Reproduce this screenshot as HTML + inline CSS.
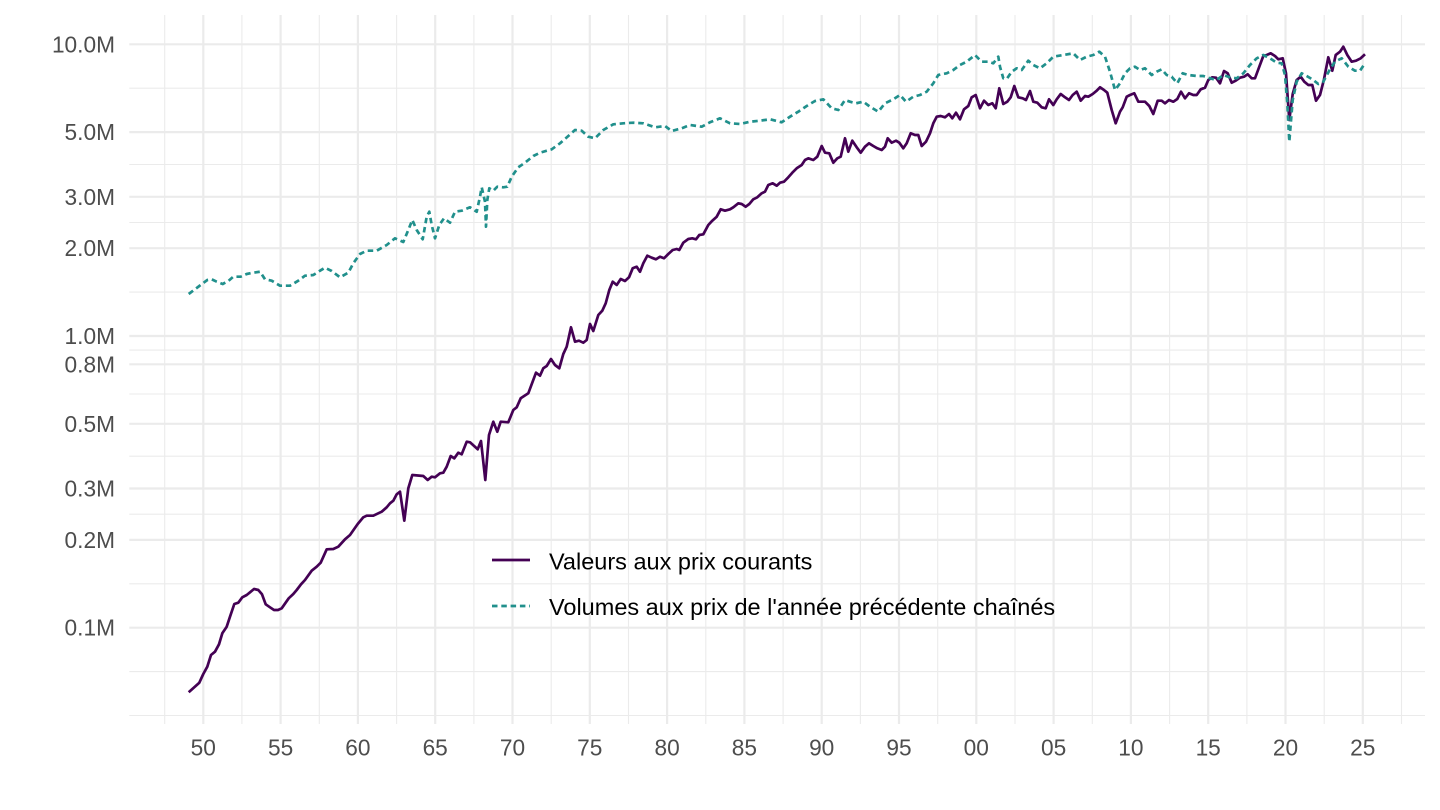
<!DOCTYPE html>
<html><head><meta charset="utf-8"><style>
html,body{margin:0;padding:0;background:#fff;}
svg{display:block;}
text{font-family:"Liberation Sans",Arial,Helvetica,sans-serif;}
</style></head><body>
<svg width="1440" height="810" viewBox="0 0 1440 810" xmlns="http://www.w3.org/2000/svg">
<rect width="1440" height="810" fill="#fff"/>
<g stroke="#EBEBEB" stroke-width="1.1" fill="none">
<line x1="129.3" x2="1425" y1="88.2" y2="88.2"/><line x1="129.3" x2="1425" y1="164.5" y2="164.5"/><line x1="129.3" x2="1425" y1="222.5" y2="222.5"/><line x1="129.3" x2="1425" y1="292.1" y2="292.1"/><line x1="129.3" x2="1425" y1="350.1" y2="350.1"/><line x1="129.3" x2="1425" y1="394" y2="394"/><line x1="129.3" x2="1425" y1="456.2" y2="456.2"/><line x1="129.3" x2="1425" y1="514.2" y2="514.2"/><line x1="129.3" x2="1425" y1="583.8" y2="583.8"/><line x1="129.3" x2="1425" y1="671.6" y2="671.6"/><line x1="129.3" x2="1425" y1="715.5" y2="715.5"/>
<line y1="15" y2="724" x1="164.7" x2="164.7"/><line y1="15" y2="724" x1="241.9" x2="241.9"/><line y1="15" y2="724" x1="319.3" x2="319.3"/><line y1="15" y2="724" x1="396.6" x2="396.6"/><line y1="15" y2="724" x1="473.9" x2="473.9"/><line y1="15" y2="724" x1="551.2" x2="551.2"/><line y1="15" y2="724" x1="628.5" x2="628.5"/><line y1="15" y2="724" x1="705.8" x2="705.8"/><line y1="15" y2="724" x1="783.1" x2="783.1"/><line y1="15" y2="724" x1="860.4" x2="860.4"/><line y1="15" y2="724" x1="937.7" x2="937.7"/><line y1="15" y2="724" x1="1015" x2="1015"/><line y1="15" y2="724" x1="1092.3" x2="1092.3"/><line y1="15" y2="724" x1="1169.6" x2="1169.6"/><line y1="15" y2="724" x1="1246.9" x2="1246.9"/><line y1="15" y2="724" x1="1324.2" x2="1324.2"/><line y1="15" y2="724" x1="1401.5" x2="1401.5"/>
</g>
<g stroke="#EBEBEB" stroke-width="2.2" fill="none">
<line x1="129.3" x2="1425" y1="44.3" y2="44.3"/><line x1="129.3" x2="1425" y1="132.1" y2="132.1"/><line x1="129.3" x2="1425" y1="196.8" y2="196.8"/><line x1="129.3" x2="1425" y1="248.2" y2="248.2"/><line x1="129.3" x2="1425" y1="336" y2="336"/><line x1="129.3" x2="1425" y1="364.3" y2="364.3"/><line x1="129.3" x2="1425" y1="423.8" y2="423.8"/><line x1="129.3" x2="1425" y1="488.5" y2="488.5"/><line x1="129.3" x2="1425" y1="539.9" y2="539.9"/><line x1="129.3" x2="1425" y1="627.7" y2="627.7"/>
<line y1="15" y2="724" x1="203.3" x2="203.3"/><line y1="15" y2="724" x1="280.6" x2="280.6"/><line y1="15" y2="724" x1="357.9" x2="357.9"/><line y1="15" y2="724" x1="435.2" x2="435.2"/><line y1="15" y2="724" x1="512.5" x2="512.5"/><line y1="15" y2="724" x1="589.8" x2="589.8"/><line y1="15" y2="724" x1="667.1" x2="667.1"/><line y1="15" y2="724" x1="744.4" x2="744.4"/><line y1="15" y2="724" x1="821.7" x2="821.7"/><line y1="15" y2="724" x1="899" x2="899"/><line y1="15" y2="724" x1="976.3" x2="976.3"/><line y1="15" y2="724" x1="1053.6" x2="1053.6"/><line y1="15" y2="724" x1="1130.9" x2="1130.9"/><line y1="15" y2="724" x1="1208.2" x2="1208.2"/><line y1="15" y2="724" x1="1285.5" x2="1285.5"/><line y1="15" y2="724" x1="1362.8" x2="1362.8"/>
</g>
<g font-size="22.7" fill="#4D4D4D" text-anchor="end">
<text x="115" y="52.3">10.0M</text><text x="115" y="140.1">5.0M</text><text x="115" y="204.8">3.0M</text><text x="115" y="256.2">2.0M</text><text x="115" y="344">1.0M</text><text x="115" y="372.3">0.8M</text><text x="115" y="431.8">0.5M</text><text x="115" y="496.5">0.3M</text><text x="115" y="547.9">0.2M</text><text x="115" y="635.7">0.1M</text>
</g>
<g font-size="22.7" fill="#4D4D4D" text-anchor="middle">
<text x="203.3" y="755.5">50</text><text x="280.6" y="755.5">55</text><text x="357.9" y="755.5">60</text><text x="435.2" y="755.5">65</text><text x="512.5" y="755.5">70</text><text x="589.8" y="755.5">75</text><text x="667.1" y="755.5">80</text><text x="744.4" y="755.5">85</text><text x="821.7" y="755.5">90</text><text x="899" y="755.5">95</text><text x="976.3" y="755.5">00</text><text x="1053.6" y="755.5">05</text><text x="1130.9" y="755.5">10</text><text x="1208.2" y="755.5">15</text><text x="1285.5" y="755.5">20</text><text x="1362.8" y="755.5">25</text>
</g>
<polyline fill="none" stroke="#440154" stroke-width="2.7" stroke-linejoin="round" points="188.7,692.3 199.3,682.7 203.3,674 207.3,666.7 211,655 215,651.7 219,644.3 222.3,633.3 226.7,626.7 230,616.7 234.3,604 238.3,602.7 242.3,597.3 246.7,595 250,592.3 254,589 258.3,590 262,594.3 265.7,604.3 270,607.3 274,610 278,610 281.7,608.3 288.7,598.3 293.3,594 296.7,590 301,584.3 305,580 311.7,570.7 316.7,566.7 320.7,562.7 326.7,549.3 333.3,549 338.3,546.7 345,539.3 350,535 357.7,524 363.3,517.3 366.7,515.7 373.3,515.7 381.7,511.7 386.7,507.3 390,503.3 393.3,500.7 396.7,494.3 400,491.7 404.3,520.7 408.3,488.3 412.3,475 423.3,476 427.7,480 431.7,476.7 435,477.3 440,473.3 443.3,472.7 446.7,466.7 450.7,456 454.3,458.3 458.3,452.7 461.7,454.3 466.7,441.7 470,442.3 477.7,449.3 481,441 485.3,480 489,435 493.3,421.7 497.3,431.7 500.7,421.7 508.3,422.3 513.3,410 516.7,407.3 520.7,398.3 528.3,393.3 536,372.7 540,375.7 543.3,368.3 546.7,366 551,359 555,365 559.3,368.3 563.3,354 566.7,346.7 571,327.3 575,341.7 579,340.7 583.3,342.7 586.7,340 590,324 593.3,331 598.3,315 602.3,310.7 605.7,303.3 609.3,290 612.7,281.7 616.7,285 620.7,279 625,281 629,277.3 632.7,268.3 636.7,266.7 640,271.7 643.3,263.3 647.3,255.7 651.7,257.7 656,259.3 660,256.7 664,258.3 668.3,254 672.7,250 676.7,249 679.3,250 683.3,242.7 688.3,239 692.3,238.3 696,239.3 699.3,235 703.3,234.3 708.3,225 712.3,220.7 716.7,216.7 720.7,209.3 725,210.7 730,209.3 733.3,207.3 738.3,203.3 741.7,204 745.7,206.7 749.3,204 753.3,199.3 757.3,197.3 761.7,193.3 765,191.7 768.3,185 772.7,183.3 776.7,185.7 780,182.7 784,181.7 788.3,177.3 792.3,172.7 796.7,168.3 801.7,165 805,160 808.3,158.3 813.3,160 817.3,156.7 821.7,146 825,152.7 829.3,153.3 833.3,162.7 837.3,158.3 840.7,156.7 845,138.3 848.3,151.7 852.3,140.7 856.7,147.3 860.7,152.7 865,146.7 869,143.3 873.3,146 877.3,148.3 881.7,150 885,146.7 887.7,138.3 891.7,142.7 896,140.7 899.3,142.7 903.3,148.3 906.7,143.3 910.7,133.3 915,135 918.3,135 921.7,146 926,141.7 930,133.3 933.3,123.3 936.7,116.7 940.7,116 945,117.3 949,114 952.3,118.3 956,112.7 960,119.3 964,109.3 968.3,106 971.7,97.3 975.7,95 980,108.3 984,100.7 988.3,105 992.3,103.3 995.7,108.3 999.3,88.3 1003.3,104 1007.3,101.7 1010.7,97.3 1014.3,86 1018.3,97.3 1022.7,98.3 1026,100 1030,91 1033.3,101.7 1037.3,102.7 1041.7,107.3 1045.7,108.3 1049,99.3 1053.3,105 1056.7,99.3 1060.7,94 1065,97.3 1069,100 1072.7,95 1076.7,91.7 1080.7,100.7 1085,96 1088.3,96.7 1092.7,94 1096.7,90.7 1100,87.3 1104,90 1107.3,92.7 1111.7,110 1115.7,123.3 1120,111.7 1122.7,107.3 1126.7,96.7 1130,95 1134.3,93.3 1138.3,101.7 1145,101.7 1149.3,106 1153.3,114 1157.7,100.7 1161.7,100.7 1165,103.3 1169,100 1173.3,101.7 1177.3,99 1181,91.7 1185,98.3 1189,93.3 1193.3,95 1196.7,95 1200.7,89.3 1205,87.7 1208.3,80 1212.3,77.3 1216,77.7 1220,83.3 1224,71 1227.7,73.3 1231.7,82.7 1235.7,80.7 1240,77.7 1244,76.7 1247.7,74.3 1251.7,78.3 1255,78.3 1259.3,66.7 1263.3,56 1266.7,55 1270.7,53.3 1275,56 1278.3,59.3 1282.7,58.3 1286,73.3 1289.3,120 1292.7,94 1296.7,80 1300.7,76.7 1304.3,81.7 1308.3,85 1312.3,85 1316,100.7 1320,95 1324,79.3 1328.3,57.3 1332.3,70.7 1335.7,55 1340,51.7 1343.3,46.7 1347.3,55 1351.7,61.7 1356,60.7 1360.7,58.3 1365,54.3"/>
<polyline fill="none" stroke="#21908C" stroke-width="2.7" stroke-dasharray="5.5 3.8" stroke-linejoin="round" points="188.7,294 199.3,286 207.3,280 211.7,279.3 216.7,281.7 222.7,284 228.3,281 233.3,276.7 240.7,276.7 246.7,274 253.3,272.7 260,271.7 265,279.3 271.7,280.7 280,285.7 290,285.7 298.3,280.7 305,275.7 313.3,275 320,270.7 325,267.7 331.7,271 340,277.3 348.3,272.7 353.3,263.3 360,254 366.7,250.7 376.7,250.7 386.7,245 395,238.3 403.3,242 408.3,230 412.3,220 416.7,230 422.7,239.3 426.7,216.7 429.3,211.7 431.7,225 435,238.3 439.3,225 444,218.3 450,222.7 455,211.7 461.7,210.7 470,207.3 476.7,211.7 480,196.7 481.7,187.3 485,201.7 486,226.7 487.3,200 489.3,188.3 493.3,190.7 497.3,186.7 503.3,187.3 507.3,186.7 511.7,176.7 518.3,167.3 525,162.7 533.3,156 540,152.7 551.7,149.3 560,143.3 568.3,136 575,130 581.7,130.7 588.3,136.7 595,138.3 603.3,130 613.3,124.3 623.3,123.3 633.3,122.7 643.3,123.3 655,127.3 665,126 671.7,131 681.7,128.3 690,125 701.7,126.7 710,122.3 720,118.3 730,123.3 740,124 750,121.7 760,120.7 770,119.3 781.7,122.3 790,116.7 798.3,111.7 806.7,106 815,101 823.3,99.3 831.7,108.3 838.3,110 845,100 850,101.7 856,103.3 863.3,101.7 870,106.7 878.3,111.7 885,103.3 893.3,99.3 900,95 906,101.7 913.3,96.7 920,95 926.7,91.7 933.3,83.3 938.3,75 946.7,73.3 953.3,70 960,65 966.7,61.7 975,55 981.7,61.7 988.3,61.7 993.3,63.3 998.3,56.7 1000,66.7 1003.3,78.3 1006.7,79 1011.7,71.7 1016.7,68.3 1021.7,70 1028.3,60.7 1033.3,65 1040,68.3 1046.7,63.3 1053.3,56.7 1063.3,55 1073.3,53.3 1080,60 1086.7,56.7 1093.3,55 1099.3,51.7 1105,56.7 1110,71.7 1115,90 1120,83.3 1125,73.3 1130,68.3 1135,66.7 1140,70 1145,68.3 1151.7,75 1156.7,71.7 1161.7,69.3 1166.7,75 1171.7,76.7 1177.3,83.3 1182.7,73.3 1188.3,75 1196.7,76 1203.3,76 1210,78.3 1216.7,80 1223.3,75 1230,77.3 1236.7,78.3 1243.3,73.3 1250,65 1256.7,58.3 1263.3,55 1270,58.3 1276.7,62.7 1281.7,63.3 1285,75 1287.3,103.3 1289.3,141.7 1292.7,100 1296.7,81.7 1301.7,73.3 1306.7,76 1313.3,80 1318.3,84 1323.3,81.7 1330,69.3 1335,61.7 1341.7,58.3 1348.3,66.7 1355,70.7 1360,70.7 1365,63.3"/>
<line x1="492" x2="530" y1="560" y2="560" stroke="#440154" stroke-width="2.7"/>
<line x1="492" x2="530" y1="606" y2="606" stroke="#21908C" stroke-width="2.7" stroke-dasharray="5.5 3.8"/>
<g font-size="23.5" fill="#000">
<text x="549" y="569.3">Valeurs aux prix courants</text>
<text x="549" y="615">Volumes aux prix de l'année précédente chaînés</text>
</g>
</svg>
</body></html>
